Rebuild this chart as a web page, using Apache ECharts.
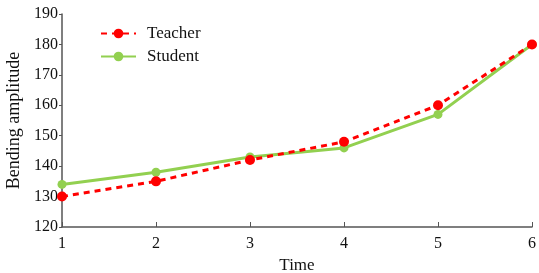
<!DOCTYPE html>
<html>
<head>
<meta charset="utf-8">
<script src="https://cdn.jsdelivr.net/npm/echarts@6/dist/echarts.min.js"></script>
<style>
  html, body { margin: 0; padding: 0; background: #fff; }
  #chart { width: 539px; height: 273px; }
</style>
</head>
<body>
<div id="chart"></div>
<script>
const times = ["1", "2", "3", "4", "5", "6"];
const teacher = [130, 135, 142, 148, 160, 180];
const student = [134, 138, 143, 146, 157, 180];

const chart = echarts.init(document.getElementById("chart"));
const axisColor = "#555";
const font = "Liberation Serif";

chart.setOption({
  animation: false,
  textStyle: { fontFamily: font },
  grid: { left: 62, right: 7, top: 14, bottom: 46, outerBoundsMode: "none", containLabel: false },
  legend: {
    left: 95,
    top: 20,
    orient: "vertical",
    itemGap: 6,
    itemWidth: 35,
    itemHeight: 12,
    textStyle: { fontFamily: font, fontSize: 17, color: "#111", padding: [0, 0, 0, 6] },
    data: ["Teacher", "Student"]
  },
  xAxis: {
    type: "category",
    data: times,
    boundaryGap: false,
    name: "Time",
    nameLocation: "middle",
    nameGap: 25,
    nameTextStyle: { fontFamily: font, fontSize: 17, color: "#111" },
    axisLine: { lineStyle: { color: axisColor, width: 1.5 } },
    axisTick: { inside: true, length: 5, lineStyle: { color: axisColor } },
    axisLabel: { fontFamily: font, fontSize: 16, color: "#111", margin: 9 },
    splitLine: { show: false }
  },
  yAxis: {
    type: "value",
    min: 120,
    max: 190,
    interval: 10,
    name: "Bending amplitude",
    nameLocation: "middle",
    nameGap: 38,
    nameTextStyle: { fontFamily: font, fontSize: 18, color: "#111" },
    axisLine: { show: true, lineStyle: { color: axisColor, width: 1.5 } },
    axisTick: { show: true, inside: false, length: 3, lineStyle: { color: axisColor } },
    axisLabel: { fontFamily: font, fontSize: 16, color: "#111", margin: 4 },
    splitLine: { show: false }
  },
  series: [
    {
      name: "Teacher",
      type: "line",
      data: teacher,
      symbol: "circle",
      symbolSize: 10,
      z: 3,
      itemStyle: { color: "#ff0000" },
      lineStyle: { color: "#ff0000", width: 3, type: [6, 5] }
    },
    {
      name: "Student",
      type: "line",
      data: student,
      symbol: "circle",
      symbolSize: 9,
      z: 2,
      itemStyle: { color: "#92d050" },
      lineStyle: { color: "#92d050", width: 3 }
    }
  ]
});
</script>
</body>
</html>
